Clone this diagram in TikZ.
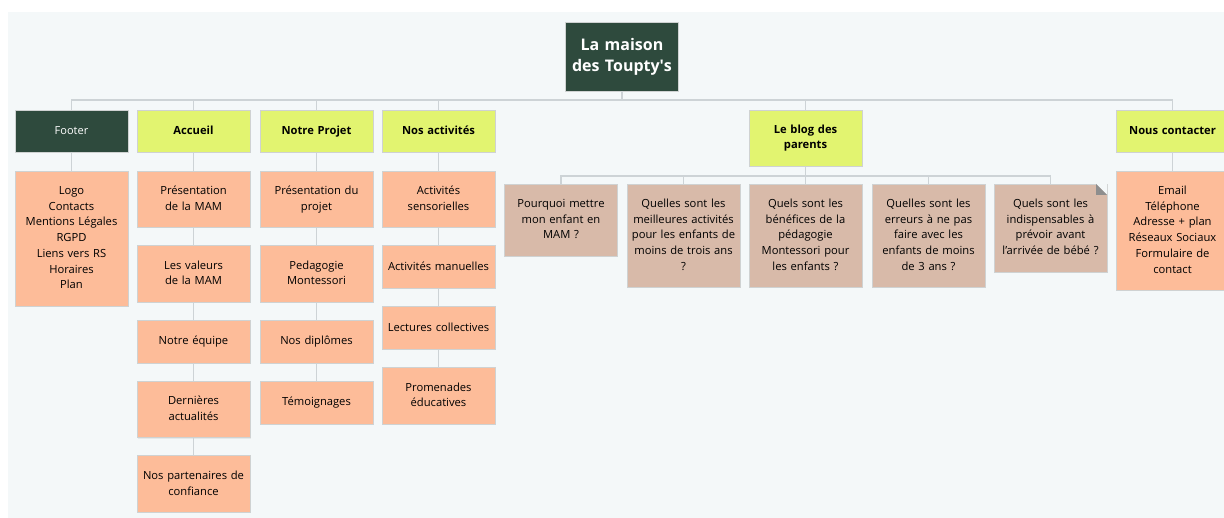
\documentclass[tikz,border=0pt]{standalone}
\usepackage{fontspec}
\setmainfont{Open Sans}
\usetikzlibrary{positioning,shadows}
\definecolor{panel}{HTML}{F4F8F9}
\definecolor{darkgreen}{HTML}{2E4A3D}
\definecolor{lime}{HTML}{E2F470}
\definecolor{salmon}{HTML}{FDBC99}
\definecolor{tan}{HTML}{D8BAA9}
\definecolor{linkgrey}{HTML}{CDD3D6}
\definecolor{rimgrey}{HTML}{CFD2D2}
\definecolor{foldgrey}{HTML}{8E8E8E}

\begin{document}
\begin{tikzpicture}[x=1pt, y=-1pt,
    every node/.style={font={\fontsize{11.2}{15.7}\selectfont}},
    card/.style={draw=rimgrey, line width=0.8pt, outer sep=0pt,
        minimum width=113pt, text width=107pt, inner xsep=3pt, inner ysep=12.6pt,
        minimum height=43pt, align=center,
        execute at begin node=\strut, execute at end node=\strut,
        drop shadow={opacity=0.12, shadow xshift=0.8pt, shadow yshift=-0.8pt}},
    page/.style={card, fill=salmon},
    post/.style={card, fill=tan},
    menu/.style={card, fill=lime, minimum height=42pt, inner ysep=11pt,
        font={\fontsize{11.2}{15.7}\selectfont\bfseries}},
    link/.style={draw=linkgrey, line width=1.2pt}
]
\useasboundingbox (0,0) rectangle (1224,518);
\fill[panel] (8,12) rectangle (1224,518);

% racine
\node[card, fill=darkgreen, text=white, minimum width=112pt, minimum height=69pt,
    inner ysep=13pt, execute at begin node={}, execute at end node={},
    font={\fontsize{16}{21.5}\selectfont\bfseries}]
    (root) at (622,56.5) {La maison\\des Toupty\textquotesingle s};

% menu principal
\node[menu, fill=darkgreen, text=white, font={\fontsize{11}{15.7}\selectfont}, anchor=north]
    (footer) at (71.5,110) {Footer};
\node[menu, anchor=north] (accueil) at (193.5,110) {Accueil};
\node[menu, anchor=north] (projet) at (316.5,110) {Notre Projet};
\node[menu, anchor=north] (activites) at (438.5,110) {Nos activités};
\node[menu, anchor=north, inner ysep=12.3pt] (blog) at (805.5,110) {Le blog des\\parents};
\node[menu, anchor=north] (contact) at (1172.5,110) {Nous contacter};

% footer
\node[page, below=19pt of footer] (foot1)
    {Logo\\Contacts\\Mentions Légales\\RGPD\\Liens vers RS\\Horaires\\Plan};

% accueil
\node[page, below=19pt of accueil] (acc1) {Présentation\\de la MAM};
\node[page, below=18pt of acc1] (acc2) {Les valeurs\\de la MAM};
\node[page, below=18pt of acc2] (acc3) {Notre équipe};
\node[page, below=18pt of acc3] (acc4) {Dernières\\actualités};
\node[page, below=18pt of acc4] (acc5) {Nos partenaires de\\confiance};

% notre projet
\node[page, below=19pt of projet] (proj1) {Présentation du\\projet};
\node[page, below=18pt of proj1] (proj2) {Pedagogie\\Montessori};
\node[page, below=18pt of proj2] (proj3) {Nos diplômes};
\node[page, below=18pt of proj3] (proj4) {Témoignages};

% nos activites
\node[page, below=19pt of activites] (act1) {Activités\\sensorielles};
\node[page, below=18pt of act1] (act2) {Activités manuelles};
\node[page, below=18pt of act2] (act3) {Lectures collectives};
\node[page, below=18pt of act3] (act4) {Promenades\\éducatives};

% blog
\node[post, anchor=north] (post1) at (561,184) {Pourquoi mettre\\mon enfant en\\MAM ?};
\node[post, anchor=north] (post2) at (683.5,184)
    {Quelles sont les\\meilleures activités\\pour les enfants de\\moins de trois ans\\?};
\node[post, anchor=north] (post3) at (805.5,184)
    {Quels sont les\\bénéfices de la\\pédagogie\\Montessori pour\\les enfants ?};
\node[post, anchor=north] (post4) at (928.5,184)
    {Quelles sont les\\erreurs à ne pas\\faire avec les\\enfants de moins\\de 3 ans ?};
\node[post, anchor=north] (post5) at (1050.5,184)
    {Quels sont les\\indispensables à\\prévoir avant\\l’arrivée de bébé ?};
\fill[panel] ([xshift=-11pt]post5.north east) -- (post5.north east)
    -- ([yshift=-11pt]post5.north east) -- cycle;
\fill[foldgrey] ([xshift=-11pt]post5.north east) -- ([yshift=-11pt]post5.north east)
    -- ([xshift=-11pt,yshift=-11pt]post5.north east) -- cycle;

% contact
\node[page, below=19pt of contact] (cont1)
    {Email\\Téléphone\\Adresse + plan\\Réseaux Sociaux\\Formulaire de\\contact};

% liens
\draw[link] (root.south) -- ++(0,9);
\draw[link] (footer.north) -- ++(0,-10) -| (contact.north);
\foreach \n in {accueil,projet,activites,blog}
    \draw[link] (\n.north) -- ++(0,-10);
\draw[link] (blog.south) -- ++(0,10);
\draw[link] (post1.north) -- ++(0,-8) -| (post5.north);
\foreach \n in {post2,post3,post4}
    \draw[link] (\n.north) -- ++(0,-8);
\foreach \a/\b in {footer/foot1, accueil/acc1, acc1/acc2, acc2/acc3, acc3/acc4, acc4/acc5,
    projet/proj1, proj1/proj2, proj2/proj3, proj3/proj4,
    activites/act1, act1/act2, act2/act3, act3/act4, contact/cont1}
    \draw[link] (\a.south) -- (\b.north);
\end{tikzpicture}
\end{document}
